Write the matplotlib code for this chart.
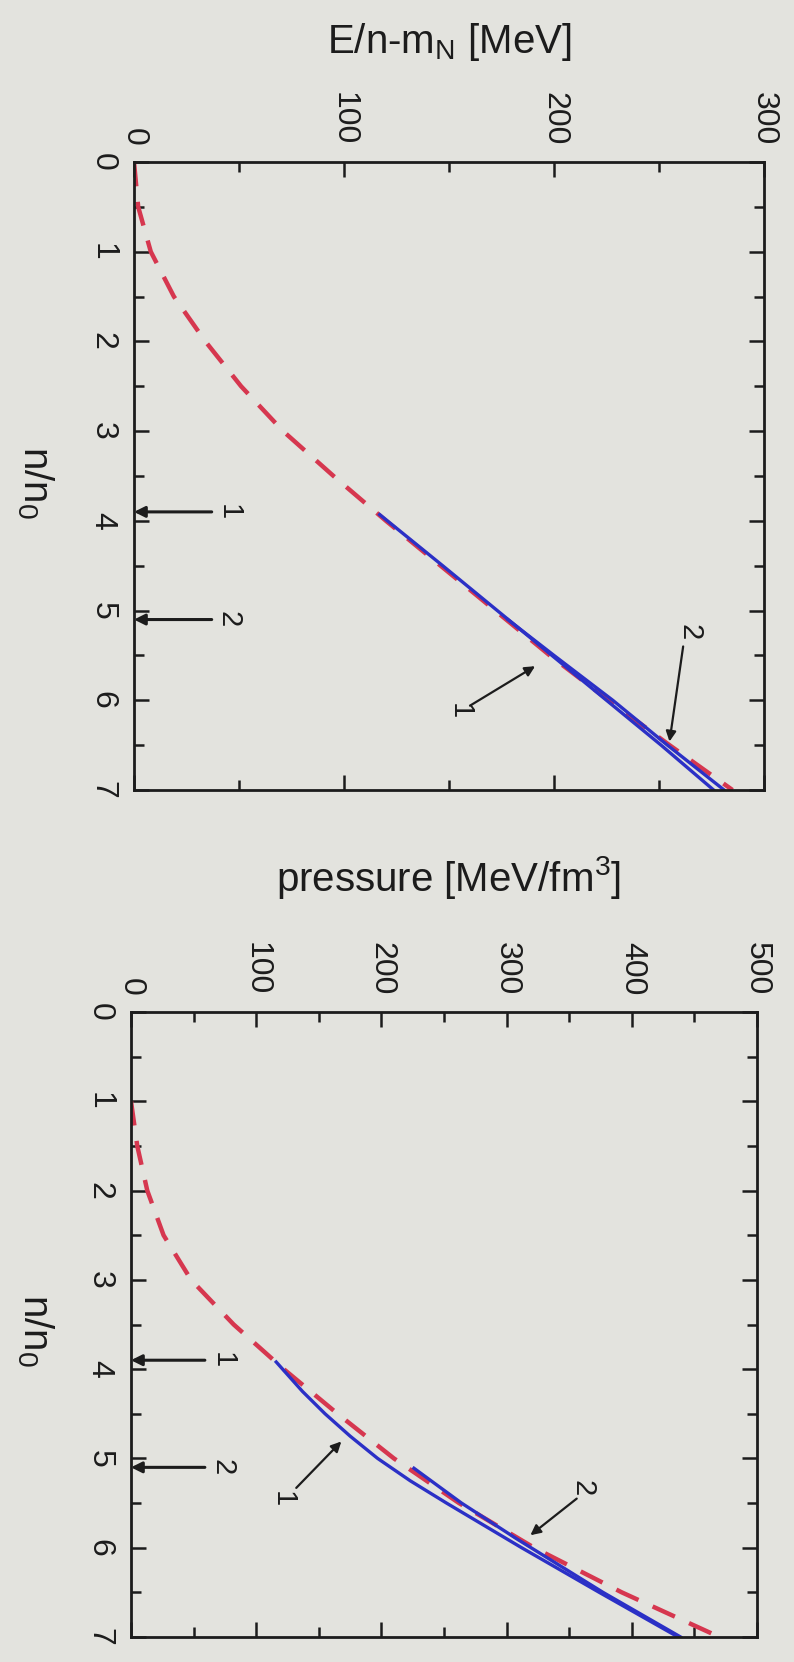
import matplotlib
matplotlib.use("Agg")
import matplotlib.pyplot as plt

plt.rcParams["font.family"] = ["Liberation Sans", "DejaVu Sans"]
plt.rcParams["mathtext.default"] = "regular"

PAPER = "#e3e3de"
INK = "#1c1c1c"
RED = "#d6374f"
BLUE = "#2b30c6"

# upper panel: energy per baryon E/n - m_N [MeV] against n/n0
n_free_e = [0, 0.5, 1, 1.5, 2, 2.5, 3, 3.5, 4, 4.5, 5, 5.5, 6, 6.5, 7]
e_free = [0, 2, 8, 19, 34, 51, 71, 95, 120, 146, 172, 198, 226, 255, 285]
n_eos1_e = [3.93, 4.5, 5, 5.5, 6, 6.5, 7]
e_eos1 = [117, 147, 173, 199, 225, 251, 276]
n_eos2_e = [5.1, 5.5, 6, 6.5, 7]
e_eos2 = [178, 200, 228, 254, 281]

# lower panel: pressure [MeV/fm^3] against n/n0
n_free_p = [1, 1.5, 2, 2.5, 3, 3.5, 4, 4.5, 5, 5.5, 6, 6.5, 7]
p_free = [0, 5, 13, 26, 48, 82, 122, 165, 210, 262, 322, 392, 470]
n_eos1_p = [3.92, 4.25, 4.5, 4.75, 5, 5.25, 5.5, 6, 6.5, 7]
p_eos1 = [116, 137, 155, 175, 197, 223, 252, 312, 374, 437]
n_eos2_p = [5.11, 5.5, 5.9, 6.5, 7]
p_eos2 = [226, 264, 308, 377, 439]

# onset densities of the two hybrid EoS
onset_n = [3.9, 5.1]
onset_labels = ["1", "2"]


def style_panel(ax, xmax, major, minor):
    ax.set_facecolor(PAPER)
    ax.set_xlim(0, xmax)
    ax.set_ylim(7, 0)
    ax.set_xticks(list(range(0, xmax + 1, major)))
    ax.set_xticks(list(range(minor, xmax, major)), minor=True)
    ax.set_yticks(range(0, 8))
    ax.set_yticks([k + 0.5 for k in range(7)], minor=True)
    ax.tick_params(which="both", direction="in", top=True, bottom=True,
                   left=True, right=True, labeltop=True, labelbottom=False,
                   width=1.8, color=INK, labelcolor=INK)
    ax.tick_params(which="major", length=11)
    ax.tick_params(which="minor", length=7)
    ax.tick_params(axis="x", labelsize=23, pad=12)
    ax.tick_params(axis="y", labelsize=23, pad=12)
    for t in ax.xaxis.get_major_ticks():
        t.label2.set_rotation(-90)
        t.label2.set_va("bottom")
        t.label2.set_ha("center")
    for t in ax.yaxis.get_major_ticks():
        t.label1.set_rotation(-90)
        t.label1.set_va("center")
        t.label1.set_ha("right")
    for sp in ax.spines.values():
        sp.set_linewidth(2.0)
        sp.set_color(INK)


def onset_marks(ax, line_end, text_x):
    for n, lab in zip(onset_n, onset_labels):
        ax.annotate("", xy=(0, n), xytext=(line_end, n),
                    arrowprops=dict(arrowstyle="-|>", color=INK, lw=2.2,
                                    mutation_scale=16, shrinkA=0, shrinkB=0))
        ax.text(text_x, n, lab, rotation=-90, ha="center", va="center",
                fontsize=21, color=INK)


def pointer(ax, lab, text_xy, tail, head):
    ax.annotate("", xy=head, xytext=tail,
                arrowprops=dict(arrowstyle="-|>", color=INK, lw=1.6,
                                mutation_scale=15, shrinkA=0, shrinkB=0))
    ax.text(text_xy[0], text_xy[1], lab, rotation=-90, ha="center",
            va="center", fontsize=21, color=INK)


fig = plt.figure(figsize=(7.94, 16.62), dpi=100, facecolor=PAPER)
ax1 = fig.add_axes([134 / 794, 1 - 790 / 1662, 630 / 794, 628 / 1662])
ax2 = fig.add_axes([131 / 794, 1 - 1637 / 1662, 626 / 794, 625 / 1662])

# upper panel
style_panel(ax1, 300, 100, 50)
ax1.plot(e_free, n_free_e, color=RED, lw=3.2, dashes=(5.5, 3.5))
ax1.plot(e_eos1, n_eos1_e, color=BLUE, lw=2.4)
ax1.plot(e_eos2, n_eos2_e, color=BLUE, lw=2.4)
onset_marks(ax1, 37, 45)
pointer(ax1, "1", (155, 6.12), (160, 6.06), (191, 5.62))
pointer(ax1, "2", (264.5, 5.24), (261.5, 5.40), (255, 6.46))
ax1.text(0.5, 1 + (162 - 53) / 628, "E/n-m$_N$ [MeV]", transform=ax1.transAxes,
         ha="center", va="baseline", fontsize=29, color=INK)
ax1.text(-0.156, 0.49, "n/n$_0$", transform=ax1.transAxes, rotation=-90,
         ha="center", va="center", fontsize=29, color=INK)

# lower panel
style_panel(ax2, 500, 100, 50)
ax2.plot(p_free, n_free_p, color=RED, lw=3.2, dashes=(5.5, 3.5))
ax2.plot(p_eos1, n_eos1_p, color=BLUE, lw=2.4)
ax2.plot(p_eos2, n_eos2_p, color=BLUE, lw=2.4)
onset_marks(ax2, 59, 73)
pointer(ax2, "1", (121.5, 5.45), (132, 5.33), (168, 4.81))
pointer(ax2, "2", (361, 5.33), (356, 5.45), (319, 5.86))
ax2.text(0.508, 1 + (1012 - 891) / 625, "pressure [MeV/fm$^3$]",
         transform=ax2.transAxes, ha="center", va="baseline", fontsize=29,
         color=INK)
ax2.text(-0.153, 0.49, "n/n$_0$", transform=ax2.transAxes, rotation=-90,
         ha="center", va="center", fontsize=29, color=INK)

fig.savefig("out.png", dpi=100, facecolor=PAPER)
